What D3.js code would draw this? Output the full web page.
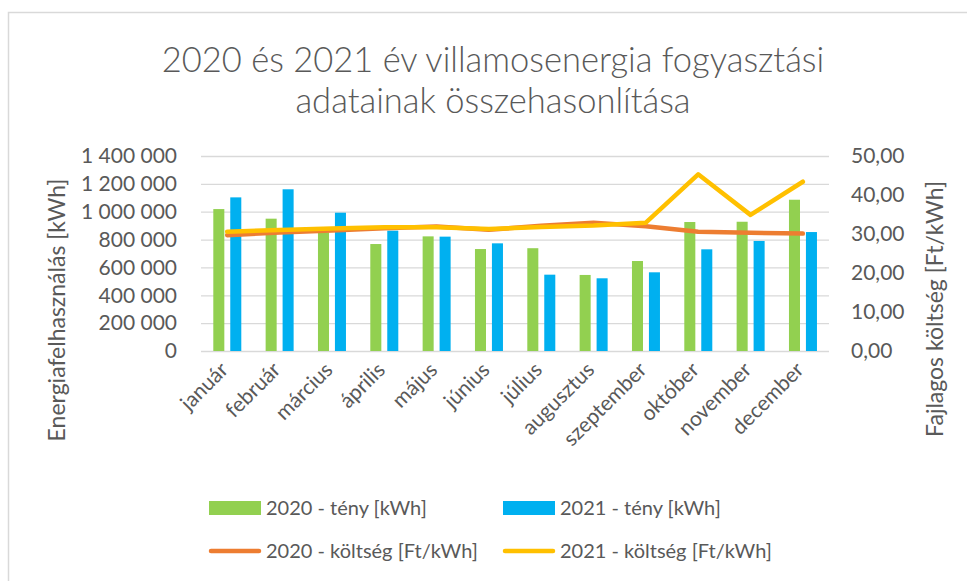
<!DOCTYPE html>
<html>
<head>
<meta charset="utf-8">
<script src="https://cdnjs.cloudflare.com/ajax/libs/d3/7.8.5/d3.min.js"></script>
<style>
  body { margin: 0; background: #fff; }
  text { font-family: Lato, 'Open Sans', sans-serif; fill: #595959; }
</style>
</head>
<body>
<div id="chart"></div>
<script>
'use strict';

var months = ['január', 'február', 'március', 'április', 'május', 'június',
  'július', 'augusztus', 'szeptember', 'október', 'november', 'december'];
var teny2020 = [1019000, 950000, 852000, 768000, 823000, 732000, 738000, 546000, 646000, 926000, 928000, 1086000];
var teny2021 = [1103000, 1161000, 993000, 864000, 821000, 773000, 548000, 522000, 565000, 730000, 790000, 854000];
var koltseg2020 = [29.7, 30.4, 30.9, 31.5, 31.9, 31.1, 32.1, 32.9, 32.0, 30.6, 30.3, 30.1];
var koltseg2021 = [30.6, 31.0, 31.4, 31.7, 31.7, 31.3, 31.8, 32.2, 32.9, 45.3, 34.9, 43.4];
var leftTicks = [0, 200000, 400000, 600000, 800000, 1000000, 1200000, 1400000];
var rightTicks = [0, 10, 20, 30, 40, 50];

var W = 967, H = 581;
var margin = {top: 156, right: 138, bottom: 230, left: 201},
  width = W - margin.left - margin.right,
  height = H - margin.top - margin.bottom;

var hu = d3.formatLocale({decimal: ',', thousands: ' ', grouping: [3], currency: ['', '']});
var fmtLeft = hu.format(',d');
var fmtRight = hu.format('.2f');

var svg = d3.select('#chart').append('svg')
  .attr('width', W)
  .attr('height', H);

// chart frame
svg.append('rect')
  .attr('x', 8.5)
  .attr('y', 12.5)
  .attr('width', 1000)
  .attr('height', 700)
  .attr('fill', 'none')
  .attr('stroke', '#d9d9d9')
  .attr('stroke-width', 1.5);

var g = svg.append('g')
  .attr('transform', 'translate(' + margin.left + ',' + margin.top + ')');

var x = d3.scaleBand()
  .domain(months)
  .range([0, width]);

var xInner = d3.scaleBand()
  .domain(['2020', '2021'])
  .range([x.bandwidth() * 0.235, x.bandwidth() * 0.77])
  .paddingInner(0.35);

var yLeft = d3.scaleLinear()
  .domain([0, 1400000])
  .range([height, 0]);

var yRight = d3.scaleLinear()
  .domain([0, 50])
  .range([height, 0]);

///////////////////////GRIDLINES///////////////////////////////
var grid = g.append('g')
  .call(d3.axisLeft(yLeft).tickValues(leftTicks).tickSize(-width).tickFormat(''));
grid.select('.domain').remove();
grid.selectAll('line')
  .attr('stroke', '#d9d9d9')
  .attr('stroke-width', 1.3);

///////////////////////AXES///////////////////////////////
var axL = g.append('g')
  .call(d3.axisLeft(yLeft).tickValues(leftTicks).tickSize(0).tickPadding(24).tickFormat(fmtLeft));
axL.select('.domain').remove();
axL.selectAll('text')
  .style('font-size', '21px')
  .attr('fill', '#595959');

var axR = g.append('g')
  .attr('transform', 'translate(' + width + ',0)')
  .call(d3.axisRight(yRight).tickValues(rightTicks).tickSize(0).tickPadding(22).tickFormat(fmtRight));
axR.select('.domain').remove();
axR.selectAll('text')
  .style('font-size', '21px')
  .attr('fill', '#595959');

var axB = g.append('g')
  .attr('transform', 'translate(0,' + height + ')')
  .call(d3.axisBottom(x).tickSize(0).tickPadding(0));
axB.select('.domain').remove();
axB.selectAll('text')
  .style('font-size', '21px')
  .attr('fill', '#595959')
  .style('text-anchor', 'end')
  .attr('x', -3)
  .attr('y', 15)
  .attr('dy', '0.35em')
  .attr('transform', 'rotate(-45,-3,15)');

///////////////////////BARS///////////////////////////////
var barSeries = [
  {key: '2020', values: teny2020, color: '#92d050'},
  {key: '2021', values: teny2021, color: '#00b0f0'}
];

barSeries.forEach(function(s) {
  g.selectAll('.bar' + s.key)
    .data(s.values)
    .enter().append('rect')
    .attr('class', 'bar' + s.key)
    .attr('x', function(d, i) {
      return x(months[i]) + xInner(s.key);
    })
    .attr('width', xInner.bandwidth())
    .attr('y', function(d) {
      return yLeft(d);
    })
    .attr('height', function(d) {
      return height - yLeft(d);
    })
    .attr('fill', s.color);
});

///////////////////////LINES///////////////////////////////
var line = d3.line()
  .x(function(d, i) {
    return x(months[i]) + x.bandwidth() / 2;
  })
  .y(function(d) {
    return yRight(d);
  });

[{values: koltseg2020, color: '#ed7d31'}, {values: koltseg2021, color: '#ffc000'}].forEach(function(s) {
  g.append('path')
    .datum(s.values)
    .attr('d', line)
    .attr('fill', 'none')
    .attr('stroke', s.color)
    .attr('stroke-width', 4.5)
    .attr('stroke-linecap', 'round')
    .attr('stroke-linejoin', 'round');
});

///////////////////////TITLES///////////////////////////////
svg.append('text')
  .attr('x', 493)
  .attr('y', 72)
  .attr('text-anchor', 'middle')
  .style('font-size', '34.5px')
  .style('font-weight', 300)
  .text('2020 és 2021 év villamosenergia fogyasztási');

svg.append('text')
  .attr('x', 493)
  .attr('y', 113)
  .attr('text-anchor', 'middle')
  .style('font-size', '34.5px')
  .style('font-weight', 300)
  .text('adatainak összehasonlítása');

svg.append('text')
  .attr('transform', 'translate(57,310) rotate(-90)')
  .attr('dy', '0.35em')
  .attr('text-anchor', 'middle')
  .style('font-size', '23px')
  .text('Energiafelhasználás [kWh]');

svg.append('text')
  .attr('transform', 'translate(935,309) rotate(-90)')
  .attr('dy', '0.35em')
  .attr('text-anchor', 'middle')
  .style('font-size', '23px')
  .text('Fajlagos költség [Ft/kWh]');

///////////////////////LEGEND///////////////////////////////
var legendItems = [
  {label: '2020 - tény [kWh]', color: '#92d050', type: 'bar', x: 209, y: 508},
  {label: '2021 - tény [kWh]', color: '#00b0f0', type: 'bar', x: 503, y: 508},
  {label: '2020 - költség [Ft/kWh]', color: '#ed7d31', type: 'line', x: 209, y: 551},
  {label: '2021 - költség [Ft/kWh]', color: '#ffc000', type: 'line', x: 503, y: 551}
];

var legend = svg.selectAll('.legend')
  .data(legendItems)
  .enter().append('g')
  .attr('class', 'legend')
  .attr('transform', function(d) {
    return 'translate(' + d.x + ',' + d.y + ')';
  });

legend.filter(function(d) { return d.type === 'bar'; })
  .append('rect')
  .attr('x', 0)
  .attr('y', -7)
  .attr('width', 52)
  .attr('height', 14)
  .attr('fill', function(d) { return d.color; });

legend.filter(function(d) { return d.type === 'line'; })
  .append('line')
  .attr('x1', 2)
  .attr('x2', 50)
  .attr('stroke', function(d) { return d.color; })
  .attr('stroke-width', 4.5)
  .attr('stroke-linecap', 'round');

legend.append('text')
  .attr('x', 57)
  .attr('dy', '0.35em')
  .style('font-size', '20px')
  .text(function(d) { return d.label; });
</script>
</body>
</html>
